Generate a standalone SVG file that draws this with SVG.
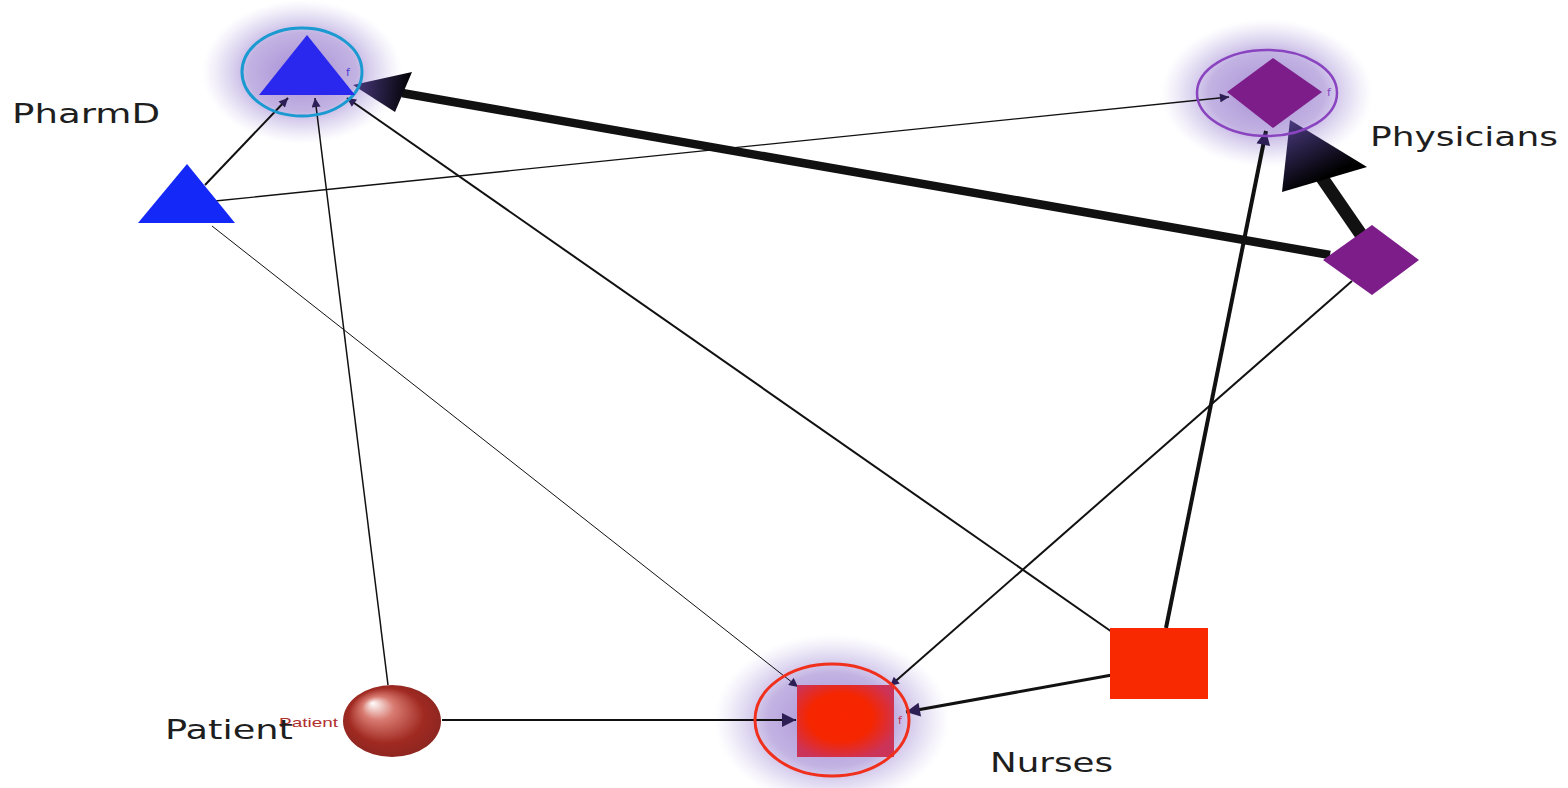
<svg xmlns="http://www.w3.org/2000/svg" width="1568" height="788" viewBox="0 0 1568 788">
<style>
.lbl{font-family:"DejaVu Sans","Liberation Sans",sans-serif;font-size:27px;fill:#1e1e1e}
.f{font-family:"DejaVu Sans",sans-serif;font-size:11px}
.e{stroke:#111;fill:none}
</style>
<defs>
<radialGradient id="glow">
<stop offset="0" stop-color="#8f70c8" stop-opacity="0.8"/>
<stop offset="0.55" stop-color="#9a80d0" stop-opacity="0.6"/>
<stop offset="0.8" stop-color="#b0a0dc" stop-opacity="0.3"/>
<stop offset="1" stop-color="#c8bce8" stop-opacity="0"/>
</radialGradient>
<radialGradient id="sphere" cx="0.5" cy="0.5" r="0.55" fx="0.3" fy="0.25">
<stop offset="0" stop-color="#ffffff"/>
<stop offset="0.3" stop-color="#d87a70"/>
<stop offset="0.7" stop-color="#a02a22"/>
<stop offset="1" stop-color="#8a2520"/>
</radialGradient>
<radialGradient id="nsq" cx="0.45" cy="0.45" r="0.6">
<stop offset="0" stop-color="#f82400"/>
<stop offset="0.55" stop-color="#f52600"/>
<stop offset="1" stop-color="#cc3358"/>
</radialGradient>
<linearGradient id="h1" x1="412" y1="92" x2="353" y2="85" gradientUnits="userSpaceOnUse">
<stop offset="0" stop-color="#000"/>
<stop offset="1" stop-color="#4a3a80"/>
</linearGradient>
<linearGradient id="h2" x1="1320" y1="180" x2="1290" y2="120" gradientUnits="userSpaceOnUse">
<stop offset="0" stop-color="#000"/>
<stop offset="1" stop-color="#4a3a80"/>
</linearGradient>
<marker id="a" viewBox="0 0 10 10" refX="10" refY="5" markerWidth="11" markerHeight="9" markerUnits="userSpaceOnUse" orient="auto">
<path d="M0,0 L10,5 L0,10 z" fill="#2d1f55"/>
</marker>
<marker id="a2" viewBox="0 0 10 10" refX="10" refY="5" markerWidth="16" markerHeight="14" markerUnits="userSpaceOnUse" orient="auto">
<path d="M0,0 L10,5 L0,10 z" fill="#2d1f55"/>
</marker>
</defs>

<g id="glows">
<ellipse cx="302" cy="72" rx="100" ry="72" fill="url(#glow)"/>
<ellipse cx="1267" cy="93" rx="106" ry="74" fill="url(#glow)"/>
<ellipse cx="832" cy="720" rx="118" ry="86" fill="url(#glow)"/>
</g>

<g id="connectors">
<line class="e" x1="1330" y1="255" x2="402" y2="93" stroke-width="8.5" stroke="#000"/>
<polygon points="353,85 412,72 395,112" fill="url(#h1)"/>
<line class="e" x1="1362" y1="236" x2="1318" y2="172" stroke-width="13" stroke="#000"/>
<polygon points="1290,120 1282,192 1367,167" fill="url(#h2)"/>
<line class="e" x1="205" y1="185" x2="288" y2="98" stroke-width="2" marker-end="url(#a)"/>
<line class="e" x1="215" y1="201" x2="1229" y2="97" stroke-width="1.3" marker-end="url(#a)"/>
<line class="e" x1="212" y1="226" x2="798" y2="687" stroke-width="1" marker-end="url(#a)"/>
<line class="e" x1="388" y1="685" x2="315" y2="98" stroke-width="1.5" marker-end="url(#a)"/>
<line class="e" x1="1112" y1="632" x2="347" y2="98" stroke-width="2" marker-end="url(#a)"/>
<line class="e" x1="1166" y1="628" x2="1266" y2="131" stroke-width="4" marker-end="url(#a2)"/>
<line class="e" x1="1112" y1="675" x2="906" y2="712" stroke-width="3" marker-end="url(#a2)"/>
<line class="e" x1="1352" y1="281" x2="890" y2="686" stroke-width="2" marker-end="url(#a)"/>
<line class="e" x1="442" y1="720" x2="796" y2="720" stroke-width="2" marker-end="url(#a2)"/>
</g>

<g id="pharmd-hub">
<ellipse cx="302" cy="72" rx="60" ry="44" fill="none" stroke="#1a9ad0" stroke-width="3"/>
<polygon points="307,35 259,95 355,95" fill="#2a28ee"/>
<text class="f" x="346" y="76" fill="#4a3ad0">f</text>
</g>

<g id="physicians-hub">
<ellipse cx="1267" cy="93" rx="70" ry="43" fill="none" stroke="#8a44c0" stroke-width="2.5"/>
<polygon points="1227,92 1273,58 1322,92 1273,128" fill="#7c1d8a"/>
<text class="f" x="1327" y="96" fill="#8a44c0" font-size="9">f</text>
</g>

<g id="nurses-hub">
<rect x="797" y="685" width="97" height="72" fill="url(#nsq)"/>
<ellipse cx="832" cy="720" rx="77" ry="56" fill="none" stroke="#f0301c" stroke-width="3"/>
<text class="f" x="898" y="724" fill="#c03050" font-size="9">f</text>
</g>

<g id="pharmd">
<polygon points="187,164 138,223 235,223" fill="#1428f8"/>
</g>

<g id="physician">
<polygon points="1323,260 1372,225 1419,260 1372,295" fill="#7c1d8a"/>
</g>

<g id="nurse">
<rect x="1110" y="628" width="98" height="71" fill="#f82800"/>
</g>

<g id="patient">
<ellipse cx="392" cy="721" rx="49" ry="36" fill="url(#sphere)"/>
<text x="279" y="727" font-family="Liberation Sans,sans-serif" font-size="13" fill="#b03030" textLength="59" lengthAdjust="spacingAndGlyphs">Patient</text>
</g>

<g id="labels">
<text class="lbl" x="12" y="123" textLength="148" lengthAdjust="spacingAndGlyphs">PharmD</text>
<text class="lbl" x="1370" y="146" textLength="188" lengthAdjust="spacingAndGlyphs">Physicians</text>
<text class="lbl" x="165" y="739" textLength="128" lengthAdjust="spacingAndGlyphs">Patient</text>
<text class="lbl" x="990" y="772" textLength="123" lengthAdjust="spacingAndGlyphs">Nurses</text>
</g>
</svg>
